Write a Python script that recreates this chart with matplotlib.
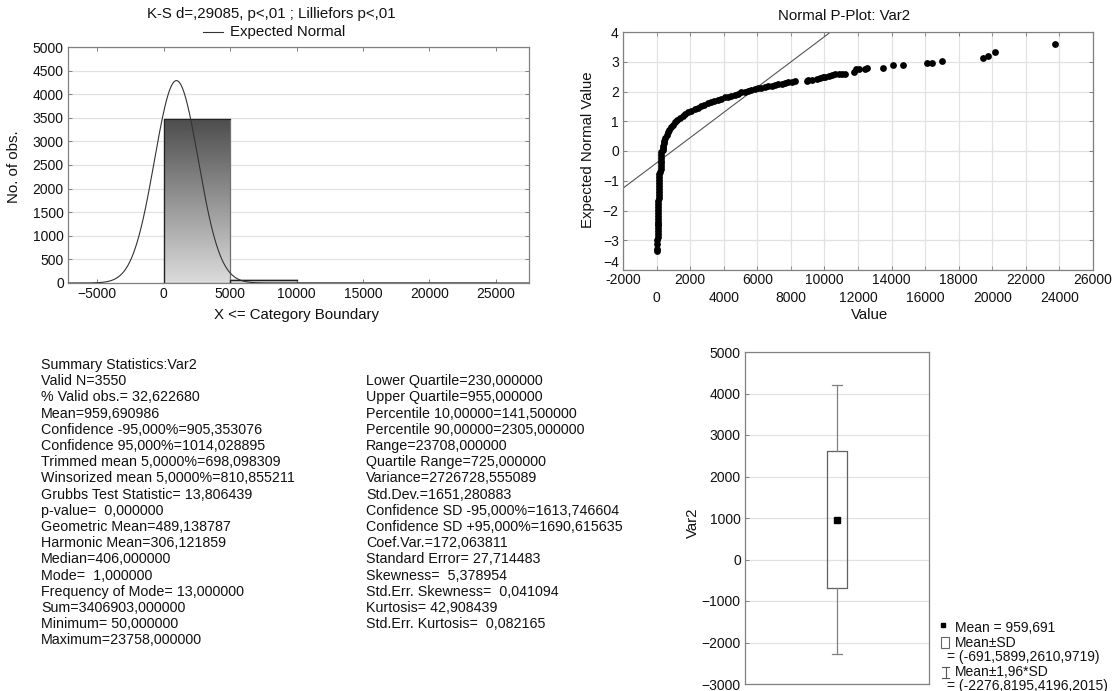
import numpy as np
import matplotlib
matplotlib.use("Agg")
import matplotlib.pyplot as plt
from matplotlib.lines import Line2D
from matplotlib.patches import Rectangle

plt.rcParams['font.family'] = ['Liberation Sans', 'DejaVu Sans']

# histogram (Var2, bin width 5000)
bin_edges = [0, 5000, 10000, 15000, 20000, 25000]
bin_counts = [3470, 68, 7, 4, 1]
n_valid = 3550
mean_v = 959.690986
sd_v = 1651.280883

# normal probability plot (value, expected normal value)
pp_value = [50, 50, 55, 55, 60, 60, 60, 62, 65, 68,
            75, 80, 85, 90, 95, 100, 105, 110, 115, 120, 128, 135, 140, 145, 150, 155, 160,
            230, 235, 240, 245, 250, 255, 260, 265,
            380, 390, 400, 420, 470, 520, 600, 680, 760, 850, 950, 1080, 1220, 1380, 1550,
            1720, 1900, 2080, 2260, 2450, 2650, 2850, 3050, 3250, 3450, 3650, 3850, 4050,
            4250, 4450, 4650, 4850, 5050, 5250, 5450, 5650, 5850, 6050, 6250, 6450, 6650,
            6850, 7050, 7250, 7450, 7650, 7850, 8050, 8250,
            8950, 9050, 9250, 9550, 9750, 9900, 10050, 10250, 10450, 10650, 10850, 11050,
            11250, 11750, 11900, 12050, 12400, 12550, 13500, 14100, 14700, 16100, 16400,
            17000, 19450, 19750, 20150, 23758]
pp_expected = [-3.37, -3.30, -3.12, -2.98, -2.88, -2.78, -2.68, -2.58, -2.50, -2.44,
               -2.38, -2.28, -2.18, -2.08, -1.98, -1.88, -1.78, -1.68, -1.58, -1.48, -1.38,
               -1.28, -1.18, -1.08, -0.98, -0.88, -0.78,
               -0.72, -0.62, -0.52, -0.42, -0.32, -0.22, -0.12, -0.04,
               0.02, 0.10, 0.18, 0.26, 0.34, 0.44, 0.54, 0.64, 0.72, 0.80, 0.88, 0.96, 1.03,
               1.10, 1.17, 1.24, 1.30, 1.35, 1.40, 1.46, 1.51, 1.56, 1.61, 1.65, 1.69, 1.73,
               1.76, 1.80, 1.83, 1.86, 1.89, 1.93, 1.97, 2.00, 2.03, 2.06, 2.09, 2.11, 2.13,
               2.15, 2.18, 2.20, 2.22, 2.24, 2.26, 2.28, 2.31, 2.33, 2.35,
               2.35, 2.38, 2.38, 2.42, 2.45, 2.48, 2.50, 2.52, 2.56, 2.58, 2.58, 2.58,
               2.58, 2.66, 2.74, 2.74, 2.74, 2.80, 2.80, 2.88, 2.88, 2.96, 2.96,
               3.03, 3.11, 3.19, 3.34, 3.58]
ref_line = [(-2000, -1.25), (10370, 4.0)]

# box plot: mean, mean +- SD, mean +- 1.96 SD
box_mean = 959.691
box_sd = (-691.5899, 2610.9719)
box_196 = (-2276.8195, 4196.2015)

stats_left = ["Summary Statistics:Var2", "Valid N=3550", "% Valid obs.= 32,622680",
              "Mean=959,690986", "Confidence -95,000%=905,353076",
              "Confidence 95,000%=1014,028895", "Trimmed mean 5,0000%=698,098309",
              "Winsorized mean 5,0000%=810,855211", "Grubbs Test Statistic= 13,806439",
              "p-value=  0,000000", "Geometric Mean=489,138787", "Harmonic Mean=306,121859",
              "Median=406,000000", "Mode=  1,000000", "Frequency of Mode= 13,000000",
              "Sum=3406903,000000", "Minimum= 50,000000", "Maximum=23758,000000"]
stats_right = ["Lower Quartile=230,000000", "Upper Quartile=955,000000",
               "Percentile 10,00000=141,500000", "Percentile 90,00000=2305,000000",
               "Range=23708,000000", "Quartile Range=725,000000", "Variance=2726728,555089",
               "Std.Dev.=1651,280883", "Confidence SD -95,000%=1613,746604",
               "Confidence SD +95,000%=1690,615635", "Coef.Var.=172,063811",
               "Standard Error= 27,714483", "Skewness=  5,378954",
               "Std.Err. Skewness=  0,041094", "Kurtosis= 42,908439",
               "Std.Err. Kurtosis=  0,082165"]

W, H = 1116, 691
fig = plt.figure(figsize=(W / 100, H / 100), dpi=100)

def px_axes(x0, y0, x1, y1):
    return fig.add_axes([x0 / W, 1 - y1 / H, (x1 - x0) / W, (y1 - y0) / H])

frame = '#808080'
gridc = '#e2e2e2'
fs = 10
tfs = 10.8
tc = '#111111'

def style(ax):
    for s in ax.spines.values():
        s.set_color(frame)
        s.set_linewidth(0.9)
    ax.tick_params(labelsize=fs, colors=tc, length=3, width=0.7, color=frame,
                   direction='in', top=True, right=True, pad=3)

# ---- histogram ----
ax1 = px_axes(68, 47, 529, 283)
style(ax1)
for i, c in enumerate(bin_counts):
    x0, x1 = bin_edges[i], bin_edges[i + 1]
    lo = 0.86
    hi = 0.86 - 0.56 * c / 3500
    ax1.imshow(np.linspace(hi, lo, 128).reshape(-1, 1), cmap='gray', vmin=0, vmax=1,
               extent=(x0, x1, 0, c), aspect='auto', zorder=2)
    ax1.add_patch(Rectangle((x0, 0), x1 - x0, c, fill=False, ec='#707070', lw=0.9, zorder=3))
    ax1.plot([x0, x0, x1], [0, c, c], color='#222222', lw=0.9, zorder=3)
xs = np.linspace(-7200, 27500, 600)
ys = n_valid * 5000 * np.exp(-0.5 * ((xs - mean_v) / sd_v) ** 2) / (sd_v * np.sqrt(2 * np.pi))
ax1.plot(xs, ys, color='#333333', lw=0.8, zorder=4)
ax1.set_xlim(-7200, 27500)
ax1.set_ylim(0, 5000)
ax1.set_xticks(range(-5000, 25001, 5000))
ax1.set_yticks(range(0, 5001, 500))
ax1.yaxis.grid(True, color=gridc, lw=0.9)
ax1.set_axisbelow(True)

# ---- normal probability plot ----
ax2 = px_axes(623, 32, 1093, 270)
style(ax2)
ax2.scatter(pp_value, pp_expected, s=24, color='black', zorder=3, linewidths=0)
(lx0, ly0), (lx1, ly1) = ref_line
ax2.axline((lx0, ly0), (lx1, ly1), color='#555555', lw=0.8, zorder=2)
ax2.set_xlim(-2000, 26000)
ax2.set_ylim(-4, 4)
ax2.set_xticks(range(-2000, 26001, 4000))
ax2.set_xticks(range(0, 24001, 4000), minor=True)
ax2.set_xticklabels([str(v) for v in range(-2000, 26001, 4000)])
ax2.set_xticklabels([str(v) for v in range(0, 24001, 4000)], minor=True)
ax2.tick_params(axis='x', which='minor', labelsize=fs, pad=15, length=3, direction='in',
                top=True, color=frame, colors=tc)
ax2.tick_params(axis='x', which='major', pad=2)
ax2.set_yticks(range(-4, 5))
ax2.yaxis.get_major_ticks()[0].label1.set_va('bottom')
ax2.grid(True, which='both', color=gridc, lw=0.9)
ax2.set_axisbelow(True)

# ---- box plot ----
ax3 = px_axes(745, 352, 929, 684)
style(ax3)
ax3.bxp([{'med': box_mean, 'q1': box_sd[0], 'q3': box_sd[1],
          'whislo': box_196[0], 'whishi': box_196[1], 'mean': box_mean, 'fliers': []}],
        positions=[0], widths=0.207, capwidths=0.116, showmeans=True,
        boxprops=dict(color='#606060', lw=0.9), whiskerprops=dict(color='#808080', lw=0.9),
        capprops=dict(color='#808080', lw=0.9), medianprops=dict(lw=0),
        meanprops=dict(marker='s', markersize=4, mfc='black', mec='black'))
ax3.set_xlim(-1, 1)
ax3.set_ylim(-3000, 5000)
ax3.set_xticks([])
ax3.set_yticks(range(-3000, 5001, 1000))
ax3.yaxis.grid(True, color=gridc, lw=0.9)
ax3.set_axisbelow(True)
ax3.tick_params(axis='y', right=False)

# ---- free text in pixel coordinates ----
ov = fig.add_axes([0, 0, 1, 1], zorder=10)
ov.set_xlim(0, W)
ov.set_ylim(H, 0)
ov.axis('off')
ov.text(271, 14, "K-S d=,29085, p<,01 ; Lilliefors p<,01", ha='center', va='center', fontsize=tfs, color=tc)
ov.add_line(Line2D([203, 223], [32, 32], color='#333333', lw=0.8))
ov.text(230, 32, "Expected Normal", ha='left', va='center', fontsize=tfs, color=tc)
ov.text(14, 167, "No. of obs.", rotation=90, ha='center', va='center', fontsize=tfs, color=tc)
ov.text(297, 315, "X <= Category Boundary", ha='center', va='center', fontsize=tfs, color=tc)
ov.text(844, 16, "Normal P-Plot: Var2", ha='center', va='center', fontsize=tfs, color=tc)
ov.text(588, 150, "Expected Normal Value", rotation=90, ha='center', va='center', fontsize=tfs, color=tc)
ov.text(870, 315, "Value", ha='center', va='center', fontsize=tfs, color=tc)
ov.text(693, 523, "Var2", rotation=90, ha='center', va='center', fontsize=tfs, color=tc)

y0, dy = 365, 16.2
for i, s in enumerate(stats_left):
    ov.text(41, y0 + i * dy, s, ha='left', va='center', fontsize=10.3, color=tc)
for i, s in enumerate(stats_right):
    ov.text(366, y0 + (i + 1) * dy, s, ha='left', va='center', fontsize=10.3, color=tc)

# box legend
lf = 10
ov.plot([943], [625], marker='s', markersize=3.5, color='black')
ov.text(955, 628, "Mean = 959,691", ha='left', va='center', fontsize=lf, color=tc)
ov.add_patch(Rectangle((941, 637), 8, 11, fill=False, ec='#666666', lw=0.8))
ov.text(955, 643, "Mean\u00b1SD", ha='left', va='center', fontsize=lf, color=tc)
ov.text(947, 657, "= (-691,5899,2610,9719)", ha='left', va='center', fontsize=lf, color=tc)
ov.add_line(Line2D([945.5, 945.5], [667, 678], color='#555555', lw=0.8))
ov.add_line(Line2D([942, 949], [667, 667], color='#555555', lw=0.8))
ov.add_line(Line2D([942, 949], [678, 678], color='#555555', lw=0.8))
ov.text(955, 672, "Mean\u00b11,96*SD", ha='left', va='center', fontsize=lf, color=tc)
ov.text(947, 686, "= (-2276,8195,4196,2015)", ha='left', va='center', fontsize=lf, color=tc)

fig.savefig("out.png", dpi=100)
